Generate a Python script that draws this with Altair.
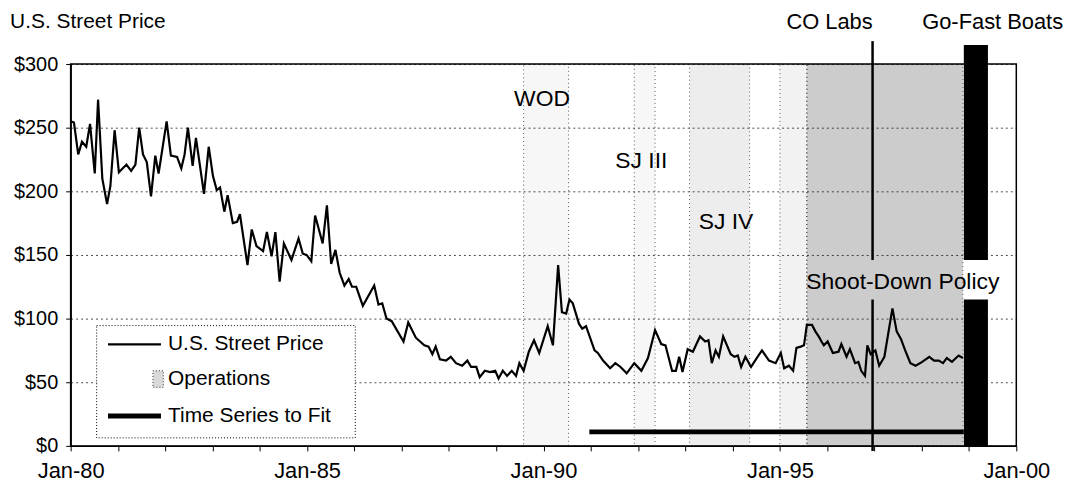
import altair as alt
import pandas as pd

FONT = "Liberation Sans"

# ---- U.S. street price ----
years = [1980.0, 1980.07, 1980.16, 1980.24, 1980.33, 1980.41, 1980.51, 1980.58, 1980.67, 1980.77,
         1980.84, 1980.93, 1981.02, 1981.18, 1981.28, 1981.37, 1981.45, 1981.53, 1981.61, 1981.70,
         1981.79, 1981.86, 1982.03, 1982.12, 1982.25, 1982.34, 1982.41, 1982.48, 1982.58, 1982.65,
         1982.82, 1982.92, 1983.01, 1983.09, 1983.16, 1983.25, 1983.32, 1983.43, 1983.52, 1983.58,
         1983.74, 1983.83, 1983.93, 1984.07, 1984.15, 1984.25, 1984.33, 1984.42, 1984.51, 1984.67,
         1984.82, 1984.91, 1984.99, 1985.09, 1985.17, 1985.33, 1985.42, 1985.51, 1985.60, 1985.69,
         1985.79, 1985.88, 1985.95, 1986.04, 1986.18, 1986.42, 1986.51, 1986.59, 1986.68, 1986.79,
         1987.04, 1987.14, 1987.30, 1987.48, 1987.57, 1987.65, 1987.72, 1987.81, 1987.94, 1988.04,
         1988.15, 1988.28, 1988.39, 1988.47, 1988.58, 1988.65, 1988.76, 1988.87, 1988.98, 1989.05,
         1989.14, 1989.23, 1989.33, 1989.42, 1989.49, 1989.58, 1989.69, 1989.80, 1989.91, 1990.09,
         1990.20, 1990.31, 1990.39, 1990.48, 1990.55, 1990.62, 1990.75, 1990.82, 1990.90, 1991.08,
         1991.15, 1991.26, 1991.41, 1991.52, 1991.63, 1991.76, 1991.92, 1992.07, 1992.21, 1992.36,
         1992.49, 1992.58, 1992.72, 1992.80, 1992.87, 1992.94, 1993.05, 1993.16, 1993.31, 1993.42,
         1993.49, 1993.56, 1993.64, 1993.71, 1993.80, 1993.96, 1994.04, 1994.11, 1994.18, 1994.27,
         1994.39, 1994.51, 1994.62, 1994.77, 1994.91, 1995.02, 1995.09, 1995.19, 1995.28, 1995.35,
         1995.44, 1995.51, 1995.57, 1995.68, 1995.75, 1995.82, 1995.88, 1995.93, 1996.01, 1996.12,
         1996.24, 1996.30, 1996.41, 1996.48, 1996.59, 1996.66, 1996.72, 1996.80, 1996.85, 1996.92,
         1997.02, 1997.10, 1997.21, 1997.38, 1997.47, 1997.56, 1997.65, 1997.76, 1997.87, 1998.01,
         1998.16, 1998.26, 1998.36, 1998.45, 1998.53, 1998.64, 1998.78, 1998.87]
prices = [255, 254, 229, 239, 235, 253, 214, 272, 210, 190,
          204, 248, 215, 221, 216, 221, 250, 229, 223, 196,
          228, 214, 255, 228, 227, 218, 229, 250, 220, 242,
          198, 235, 212, 201, 203, 184, 197, 175, 176, 182,
          142, 170, 157, 153, 168, 149, 168, 129, 159, 146,
          163, 151, 150, 145, 181, 159, 189, 143, 154, 136,
          126, 131, 125, 125, 110, 126, 111, 112, 100, 98,
          82, 97, 85, 79, 78, 72, 78, 68, 67, 70,
          65, 63, 67, 62, 62, 54, 59, 58, 59, 53,
          59, 55, 59, 55, 65, 59, 74, 83, 73, 94,
          79, 142, 105, 104, 115, 112, 96, 92, 94, 75,
          73, 67, 61, 65, 62, 57, 65, 59, 69, 91,
          80, 79, 59, 59, 70, 58, 76, 74, 86, 82,
          83, 65, 75, 70, 86, 72, 70, 71, 62, 70,
          62, 69, 75, 67, 65, 73, 61, 63, 59, 77,
          78, 79, 95, 95, 90, 86, 82, 79, 82, 73,
          74, 80, 70, 76, 65, 66, 59, 55, 79, 72,
          75, 63, 70, 108, 90, 84, 75, 65, 63, 66,
          70, 67, 67, 65, 69, 66, 71, 69]

# ---- operations (shaded periods) ----
ops_start = [1989.58, 1991.92, 1993.09, 1995.00, 1995.57]
ops_end = [1990.53, 1992.36, 1994.36, 1995.57, 1998.87]
ops_shade = [0.03, 0.03, 0.07, 0.05, 0.2]
ops_low = [0, 0, 0, 0, 0]
ops_high = [300, 300, 300, 300, 300]

# ---- time series to fit ----
fit_start = [1990.97]
fit_end = [1998.89]
fit_level = [11]

# ---- events ----
colabs_year = [1996.96, 1996.96]
colabs_low = [-4, 146]
colabs_high = [115, 318]
boats_start = [1998.89, 1998.89]
boats_end = [1999.40, 1999.40]
boats_low = [0, 146]
boats_high = [115, 315]

# ---- annotation labels ----
ann_text = ["WOD", "SJ III", "SJ IV", "Shoot-Down Policy"]
ann_x = [1989.97, 1992.07, 1993.86, 1997.60]
ann_y = [272.6, 224, 176, 129]

top_text = ["CO Labs", "Go-Fast Boats"]
top_x = [1996.05, 1999.50]
top_y = [333, 333]

title_text = ["U.S. Street Price"]
title_x = [1978.72]
title_y = [333]

# ---- legend ----
leg_box_x = [1980.55]
leg_box_x2 = [1986.02]
leg_box_y = [6.3]
leg_box_y2 = [94.5]
leg_labels = ["U.S. Street Price", "Operations", "Time Series to Fit"]
leg_text_x = [1982.06, 1982.06, 1982.06]
leg_text_y = [79.7, 52.3, 23.4]
leg_line_x = [1980.79, 1980.79]
leg_line_x2 = [1981.91, 1981.91]
leg_line_y = [79.7, 23.4]
leg_line_w = [2.2, 5.0]
leg_op_x = [1981.74]
leg_op_x2 = [1981.96]
leg_op_y = [46]
leg_op_y2 = [59]

XS = alt.Scale(domain=[1980, 2000], nice=False, zero=False)
YS = alt.Scale(domain=[0, 300], nice=False, zero=False)

x_axis = alt.Axis(values=list(range(1980, 2001)), title=None,
                  labelExpr="datum.value % 5 == 0 ? 'Jan-' + format(datum.value % 100, '02d') : ''",
                  labelOverlap=False, labelFont=FONT, labelFontSize=22, labelColor="black",
                  tickColor="black", tickSize=5, labelPadding=10, grid=False,
                  domainColor="black", domainWidth=1.5, labelFlush=False)
y_axis = alt.Axis(values=[0, 50, 100, 150, 200, 250, 300], title=None,
                  labelExpr="'$' + datum.value", labelFont=FONT, labelFontSize=20,
                  labelColor="black", tickColor="black", tickSize=5, labelPadding=8,
                  grid=True, gridDash=[2, 3], gridColor="black", gridOpacity=0.7,
                  domainColor="black", domainWidth=1.5)


def X(field):
    return alt.X(field, scale=XS, axis=x_axis)


def Y(field):
    return alt.Y(field, scale=YS, axis=y_axis)


ops_df = pd.DataFrame({"s": ops_start, "e": ops_end, "lo": ops_low, "hi": ops_high, "op": ops_shade})
ops = alt.Chart(ops_df).mark_rect(fill="black", stroke="#333", strokeDash=[1, 3], strokeWidth=1,
                                  strokeOpacity=0.8).encode(
    x=X("s:Q"), x2="e:Q", y=Y("lo:Q"), y2="hi:Q",
    fillOpacity=alt.FillOpacity("op:Q", scale=None),
)

price_df = pd.DataFrame({"year": years, "price": prices})
line = alt.Chart(price_df).mark_line(color="black", strokeWidth=2.2).encode(
    x=X("year:Q"), y=Y("price:Q"),
)

fit_df = pd.DataFrame({"s": fit_start, "e": fit_end, "v": fit_level})
fit = alt.Chart(fit_df).mark_rule(color="black", strokeWidth=5).encode(
    x=X("s:Q"), x2="e:Q", y=Y("v:Q"),
)

co_df = pd.DataFrame({"x": colabs_year, "lo": colabs_low, "hi": colabs_high})
co = alt.Chart(co_df).mark_rule(color="black", strokeWidth=2.5).encode(
    x=X("x:Q"), y=Y("lo:Q"), y2="hi:Q",
)

boats_df = pd.DataFrame({"s": boats_start, "e": boats_end, "lo": boats_low, "hi": boats_high})
boats = alt.Chart(boats_df).mark_rect(color="black").encode(
    x=X("s:Q"), x2="e:Q", y=Y("lo:Q"), y2="hi:Q",
)

ann_df = pd.DataFrame({"t": ann_text, "x": ann_x, "y": ann_y})
ann = alt.Chart(ann_df).mark_text(font=FONT, fontSize=23, color="black", align="center",
                                  baseline="middle").encode(
    x=X("x:Q"), y=Y("y:Q"), text="t:N",
)

top_df = pd.DataFrame({"t": top_text, "x": top_x, "y": top_y})
top = alt.Chart(top_df).mark_text(font=FONT, fontSize=22, color="black", align="center",
                                  baseline="middle").encode(
    x=X("x:Q"), y=Y("y:Q"), text="t:N",
)

title_df = pd.DataFrame({"t": title_text, "x": title_x, "y": title_y})
title = alt.Chart(title_df).mark_text(font=FONT, fontSize=21, color="black", align="left",
                                      baseline="middle").encode(
    x=X("x:Q"), y=Y("y:Q"), text="t:N",
)

box_df = pd.DataFrame({"x": leg_box_x, "x2": leg_box_x2, "y": leg_box_y, "y2": leg_box_y2})
box = alt.Chart(box_df).mark_rect(fill="white", stroke="black", strokeDash=[1, 2],
                                  strokeWidth=1).encode(
    x=X("x:Q"), x2="x2:Q", y=Y("y:Q"), y2="y2:Q",
)

legl_df = pd.DataFrame({"x": leg_line_x, "x2": leg_line_x2, "y": leg_line_y, "w": leg_line_w})
legl = alt.Chart(legl_df).mark_rule(color="black").encode(
    x=X("x:Q"), x2="x2:Q", y=Y("y:Q"),
    strokeWidth=alt.StrokeWidth("w:Q", scale=None),
)

lego_df = pd.DataFrame({"x": leg_op_x, "x2": leg_op_x2, "y": leg_op_y, "y2": leg_op_y2})
lego = alt.Chart(lego_df).mark_rect(fill="black", fillOpacity=0.15, stroke="#333",
                                    strokeDash=[1, 2], strokeWidth=1).encode(
    x=X("x:Q"), x2="x2:Q", y=Y("y:Q"), y2="y2:Q",
)

legt_df = pd.DataFrame({"t": leg_labels, "x": leg_text_x, "y": leg_text_y})
legt = alt.Chart(legt_df).mark_text(font=FONT, fontSize=21, color="black", align="left",
                                    baseline="middle").encode(
    x=X("x:Q"), y=Y("y:Q"), text="t:N",
)

chart = alt.layer(ops, line, fit, co, boats, ann, top, title, box, legl, lego, legt).properties(
    width=951, height=384,
    autosize=alt.AutoSizeParams(type="none"),
    padding={"left": 63, "top": 55, "right": 54, "bottom": 40},
).configure_view(stroke="black", strokeWidth=1.5)

chart.save("out.html", embed_options={"renderer": "svg", "actions": False})
